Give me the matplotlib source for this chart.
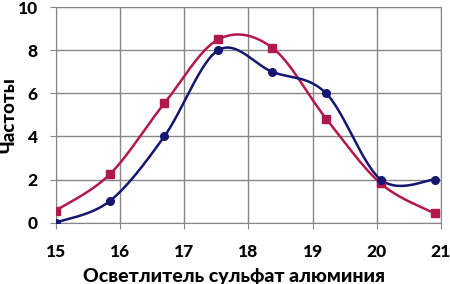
import numpy as np
import matplotlib
matplotlib.use("Agg")
import matplotlib.pyplot as plt

plt.rcParams['font.family'] = ['Lato', 'DejaVu Sans']

# data
x_vals = [15.0, 15.84, 16.69, 17.53, 18.37, 19.21, 20.06, 20.9]
navy_vals = [0, 1, 4, 8, 7, 6, 2, 2]
red_vals = [0.56, 2.24, 5.53, 8.5, 8.12, 4.83, 1.82, 0.43]
x_ticks = [15, 16, 17, 18, 19, 20, 21]
y_ticks = [0, 2, 4, 6, 8, 10]


def smooth(xs, ys, n=30):
    # Excel style smoothing (Bezier through the points)
    xs = np.asarray(xs, float)
    ys = np.asarray(ys, float)
    px = np.concatenate([[xs[0]], xs, [xs[-1]]])
    py = np.concatenate([[ys[0]], ys, [ys[-1]]])
    outx, outy = [], []
    t = np.linspace(0, 1, n)
    for i in range(1, len(px) - 2):
        p0 = np.array([px[i], py[i]])
        p3 = np.array([px[i + 1], py[i + 1]])
        c1 = p0 + (np.array([px[i + 1], py[i + 1]]) - np.array([px[i - 1], py[i - 1]])) / 6
        c2 = p3 - (np.array([px[i + 2], py[i + 2]]) - np.array([px[i], py[i]])) / 6
        b = ((1 - t) ** 3)[:, None] * p0 + (3 * (1 - t) ** 2 * t)[:, None] * c1 \
            + (3 * (1 - t) * t ** 2)[:, None] * c2 + (t ** 3)[:, None] * p3
        outx.extend(b[:, 0])
        outy.extend(b[:, 1])
    return outx, outy


navy = '#141670'
red = '#b2184c'

fig = plt.figure(figsize=(4.5, 2.84), dpi=100)
ax = fig.add_axes([0.124, 0.216, 0.856, 0.759])

sx, sy = smooth(x_vals, red_vals)
ax.plot(sx, sy, color=red, lw=1.8, zorder=3)
ax.plot(x_vals, red_vals, 's', color=red, ms=5.5, zorder=4)

sx, sy = smooth(x_vals, navy_vals)
ax.plot(sx, sy, color=navy, lw=1.8, zorder=3)
ax.plot(x_vals, navy_vals, 'o', color=navy, ms=5.5, zorder=4)

ax.set_xlim(15, 21)
ax.set_ylim(0, 10)
ax.set_xticks(x_ticks)
ax.set_yticks(y_ticks)
ax.grid(True, color='#868686', lw=1)
ax.set_axisbelow(True)
for s in ax.spines.values():
    s.set_color('#868686')
ax.tick_params(colors='#868686', labelcolor='black', labelsize=12.5, length=4)
ax.tick_params(axis='x', pad=11.5)
ax.tick_params(axis='y', pad=9)
for lab in ax.get_xticklabels() + ax.get_yticklabels():
    lab.set_fontweight('black')

# axis titles placed in figure coords, as in the reference
fig.text(0.52, 0.028, 'Осветлитель сульфат алюминия', fontsize=14,
         fontweight='black', ha='center', va='center')
fig.text(0.02, 0.595, 'Частоты', fontsize=13.5, fontweight='black',
         rotation=90, ha='center', va='center')

fig.savefig('out.png', dpi=100)
